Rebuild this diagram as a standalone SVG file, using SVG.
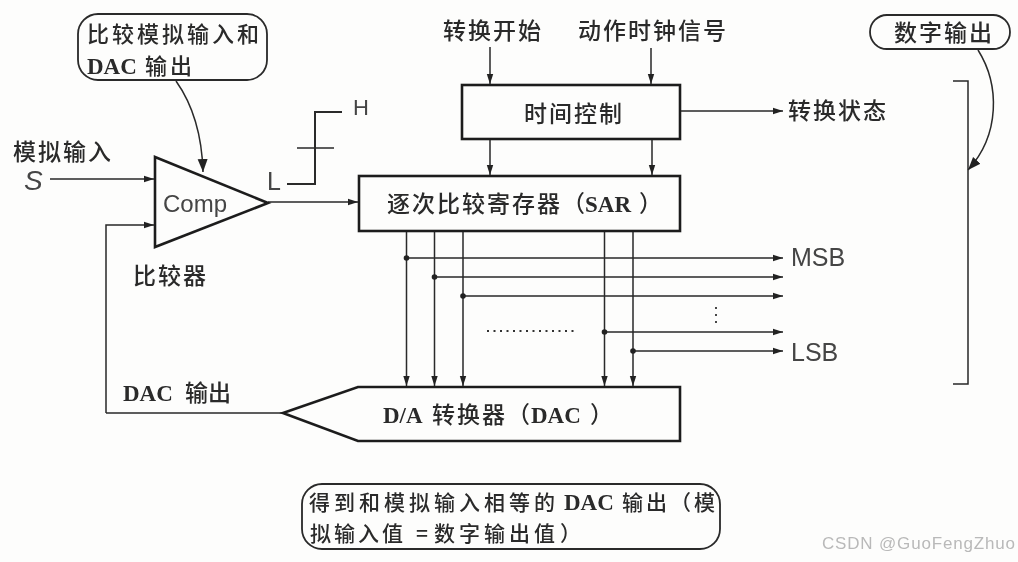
<svg xmlns="http://www.w3.org/2000/svg" width="1018" height="562" viewBox="0 0 1018 562">
<style>
text{font-family:"Noto Sans CJK SC","Liberation Sans",sans-serif;font-size:23px;fill:#2a2a2a;font-weight:500}
.lat{font-family:"Liberation Sans","Noto Sans CJK SC",sans-serif;font-weight:400;fill:#444}
.ser{font-family:"Liberation Serif","Noto Sans CJK SC",serif;font-weight:700;letter-spacing:0}
.sp{letter-spacing:2px}
.n22{font-size:22px;letter-spacing:3px}
.n21{font-size:21px;letter-spacing:4px}
.n21b{font-size:21px;letter-spacing:3px}
.box{fill:none;stroke:#1e1e1e;stroke-width:2.6}
.call{fill:none;stroke:#2a2a2a;stroke-width:1.8}
.ln{fill:none;stroke:#2a2a2a;stroke-width:1.5}
.dot{fill:#222}
</style>
<defs>
<marker id="a" markerUnits="userSpaceOnUse" markerWidth="11" markerHeight="8" refX="10" refY="4" orient="auto"><path d="M0 0.8L10 4L0 7.2z" fill="#222"/></marker>
<marker id="b" markerUnits="userSpaceOnUse" markerWidth="14" markerHeight="12" refX="13" refY="6" orient="auto"><path d="M0 1L13 6L0 11z" fill="#222"/></marker>
<filter id="soft" x="0" y="0" width="1" height="1"><feGaussianBlur stdDeviation="0.45"/></filter>
</defs>
<rect width="1018" height="562" fill="#fdfdfc"/>
<g filter="url(#soft)">
<g id="connectors">
<path class="ln" marker-end="url(#a)" d="M50 179H154"/>
<path class="ln" marker-end="url(#a)" d="M106 413V225H154"/>
<path class="ln" d="M106 413H283"/>
<path class="ln" marker-end="url(#a)" d="M268 202H358"/>
<path class="ln" marker-end="url(#a)" d="M490 47V84"/>
<path class="ln" marker-end="url(#a)" d="M651 48V84"/>
<path class="ln" marker-end="url(#a)" d="M490 140V175"/>
<path class="ln" marker-end="url(#a)" d="M652 140V175"/>
<path class="ln" marker-end="url(#a)" d="M680 111H783"/>
<path class="ln" marker-end="url(#a)" d="M406.500 231V386"/>
<path class="ln" marker-end="url(#a)" d="M434.500 231V386"/>
<path class="ln" marker-end="url(#a)" d="M463 231V386"/>
<path class="ln" marker-end="url(#a)" d="M604.500 231V386"/>
<path class="ln" marker-end="url(#a)" d="M633 231V386"/>
<path class="ln" marker-end="url(#a)" d="M406.500 258H783"/>
<path class="ln" marker-end="url(#a)" d="M434.500 277H783"/>
<path class="ln" marker-end="url(#a)" d="M463 296H783"/>
<path class="ln" marker-end="url(#a)" d="M604.500 332H783"/>
<path class="ln" marker-end="url(#a)" d="M633 351H783"/>
<circle class="dot" cx="406.500" cy="258" r="2.800"/>
<circle class="dot" cx="434.500" cy="277" r="2.800"/>
<circle class="dot" cx="463" cy="296" r="2.800"/>
<circle class="dot" cx="604.500" cy="332" r="2.800"/>
<circle class="dot" cx="633" cy="351" r="2.800"/>
<path d="M487 331H578" fill="none" stroke="#333" stroke-width="1.800" stroke-dasharray="2 4.500"/>
<path d="M716 307V326" fill="none" stroke="#333" stroke-width="1.800" stroke-dasharray="2 5"/>
<path class="ln" stroke-width="2" marker-end="url(#b)" d="M176 81C193 105 202 135 203 172"/>
<path class="ln" stroke-width="2" marker-end="url(#b)" d="M978 50C1000 85 1000 135 968 170"/>
</g>
<g id="comparator-note">
<rect class="call" x="78" y="14" width="189" height="66" rx="20"/>
<text class="n22" x="87" y="42">比较模拟输入和</text>
<text y="74"><tspan class="ser" x="87">DAC</tspan><tspan class="n22" x="145">输出</tspan></text>
</g>
<g id="analog-input">
<text class="sp" x="13" y="160">模拟输入</text>
<text class="lat" x="24" y="190" font-style="italic" style="font-size:28px">S</text>
</g>
<g id="comparator">
<path class="box" d="M155 157L268 203L155 247Z"/>
<text class="lat" x="163" y="212" style="font-size:24px">Comp</text>
<text class="sp" x="133" y="284">比较器</text>
</g>
<g id="level-signal">
<path fill="none" stroke="#2a2a2a" stroke-width="2" d="M287 184H315V112H342"/>
<path class="ln" stroke-width="1.200" d="M297 148H334"/>
<text class="lat" x="267" y="190" style="font-size:25px">L</text>
<text class="lat" x="353" y="115" style="font-size:22px">H</text>
</g>
<g id="start-label"><text class="sp" x="443" y="39">转换开始</text></g>
<g id="clock-label"><text class="sp" x="578" y="39">动作时钟信号</text></g>
<g id="timing-control">
<rect class="box" x="462" y="85" width="218" height="54"/>
<text class="sp" x="524" y="122">时间控制</text>
</g>
<g id="status-label"><text class="sp" x="788" y="119">转换状态</text></g>
<g id="sar">
<rect class="box" x="359" y="176" width="321" height="55"/>
<text y="212"><tspan class="sp" x="387">逐次比较寄存器</tspan><tspan x="562">（</tspan><tspan class="ser" x="585">SAR</tspan><tspan x="639">）</tspan></text>
</g>
<g id="digital-output-note">
<rect class="call" x="870" y="15" width="140" height="34" rx="17"/>
<text class="sp" x="894" y="41">数字输出</text>
</g>
<g id="digital-bracket"><path class="ln" d="M953 81H968V384H953"/></g>
<g id="bit-labels">
<text class="lat" x="791" y="266" style="font-size:25px">MSB</text>
<text class="lat" x="791" y="361" style="font-size:25px">LSB</text>
</g>
<g id="dac">
<path class="box" d="M283 413L358 387H680V441H358Z"/>
<text y="423"><tspan class="ser" x="383">D/A</tspan><tspan class="sp" x="432">转换器</tspan><tspan x="507">（</tspan><tspan class="ser" x="531">DAC</tspan><tspan x="590">）</tspan></text>
</g>
<g id="dac-output-label">
<text y="401"><tspan class="ser" x="123">DAC</tspan><tspan x="185">输出</tspan></text>
</g>
<g id="result-note">
<rect class="call" x="302" y="484" width="418" height="65" rx="20"/>
<text y="510"><tspan class="n21" x="309">得到和模拟输入相等的</tspan><tspan class="ser" x="564">DAC</tspan><tspan class="n21b" x="622">输出（模</tspan></text>
<text y="541"><tspan class="n21b" x="310">拟输入值</tspan><tspan x="416" style="font-size:21px">=</tspan><tspan class="n21" x="434">数字输出值</tspan><tspan x="560" style="font-size:21px">）</tspan></text>
</g>
<text x="822" y="549" textLength="193" lengthAdjust="spacing" style="font-family:'Liberation Sans',sans-serif;font-size:17px;font-weight:400;fill:#b9b9b9">CSDN @GuoFengZhuo</text>
</g>
</svg>
